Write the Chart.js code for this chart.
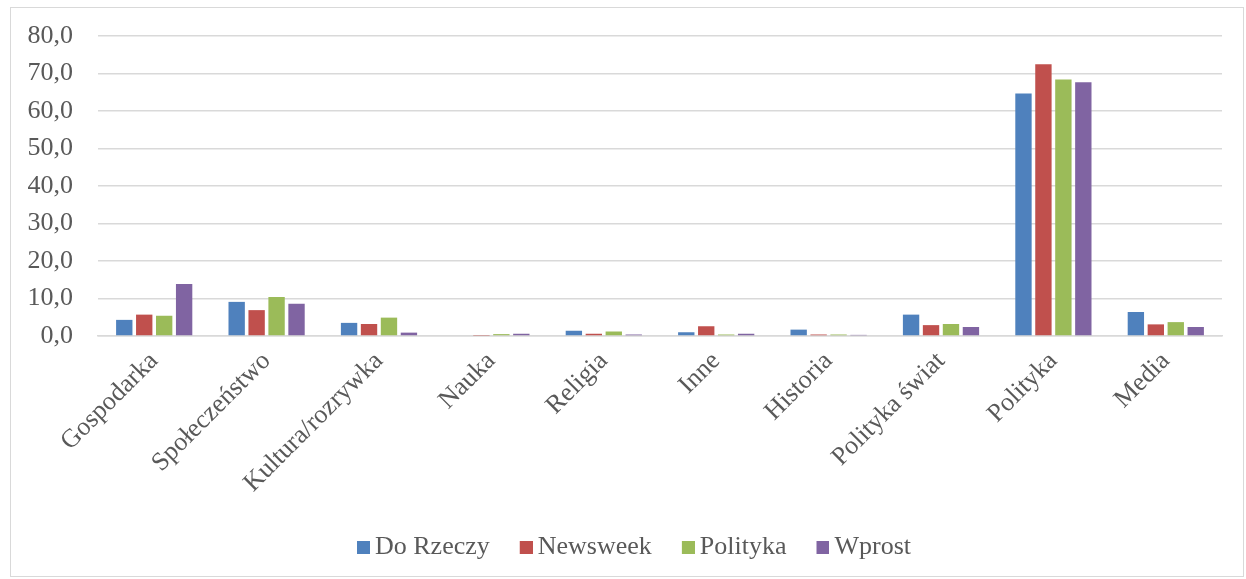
<!DOCTYPE html>
<html><head><meta charset="utf-8">
<script src="https://cdn.jsdelivr.net/npm/chart.js@4/dist/chart.umd.min.js"></script>
<style>
html,body{margin:0;padding:0;background:#fff;}
#box{position:absolute;left:10px;top:7px;width:1234px;height:570px;border:1px solid #d9d9d9;box-sizing:border-box;}
canvas{display:block;}
</style></head><body>
<div id="box"><canvas id="c" width="1232" height="568"></canvas></div>
<script>
const categories = ["Gospodarka","Społeczeństwo","Kultura/rozrywka","Nauka","Religia","Inne","Historia","Polityka świat","Polityka","Media"];
const doRzeczy = [4.3, 9.1, 3.5, 0.0, 1.4, 1.0, 1.7, 5.7, 64.7, 6.4];
const newsweek = [5.7, 6.9, 3.2, 0.1, 0.6, 2.6, 0.4, 2.9, 72.5, 3.1];
const polityka = [5.4, 10.4, 4.9, 0.5, 1.2, 0.4, 0.4, 3.2, 68.4, 3.7];
const wprost   = [13.9, 8.6, 0.9, 0.6, 0.4, 0.6, 0.3, 2.4, 67.7, 2.4];
const seriesNames = ["Do Rzeczy","Newsweek","Polityka","Wprost"];
const colors = ["#4F81BD","#C0504D","#9BBB59","#8064A2"];
const yTicks = [0,10,20,30,40,50,60,70,80];

const font = "'Liberation Serif','Times New Roman',serif";
const values = [doRzeczy, newsweek, polityka, wprost];

// legend marker: square placed at the right side of a wider transparent image
const PSW = 23, SQ = 13, IMGW = PSW + 16;
function marker(color){
  const c = document.createElement('canvas');
  c.width = IMGW; c.height = SQ;
  const x = c.getContext('2d');
  x.fillStyle = color;
  x.fillRect(IMGW - SQ, 0, SQ, SQ);
  return c;
}
const markers = colors.map(marker);

new Chart(document.getElementById('c'), {
  type: 'bar',
  data: {
    labels: categories,
    datasets: seriesNames.map((n,i)=>({
      label: n, data: values[i], backgroundColor: colors[i],
      pointStyle: markers[i],
      categoryPercentage: 0.71, barPercentage: 0.82
    }))
  },
  options: {
    responsive: false, animation: false,
    layout: {padding: {top: 28, right: 21, left: 17, bottom: 6}},
    plugins: {
      legend: {position: 'bottom',
        labels: {font: {family: font, size: 26}, color: '#595959', usePointStyle: true,
          pointStyleWidth: PSW, boxHeight: SQ, padding: 12}},
      tooltip: {enabled: false}
    },
    scales: {
      x: {
        grid: {display: false},
        border: {display: true, color: '#d9d9d9', width: 1.5},
        ticks: {font: {family: font, size: 26}, color: '#595959', minRotation: 45, maxRotation: 45, padding: 2},
        afterFit: s => { s.height = 186; s.paddingLeft = 0; s.paddingRight = 0; }
      },
      y: {
        min: 0, max: 80,
        afterBuildTicks: s => { s.ticks = yTicks.map(v=>({value:v})); },
        grid: {color: '#d9d9d9', lineWidth: 1.5, drawTicks: false},
        border: {display: false},
        ticks: {font: {family: font, size: 26}, color: '#595959', padding: 25,
          callback: v => v.toFixed(1).replace('.', ',')},
        afterFit: s => { s.width = 70; s.paddingTop = 0; s.paddingBottom = 0; }
      }
    }
  }
});
</script></body></html>
